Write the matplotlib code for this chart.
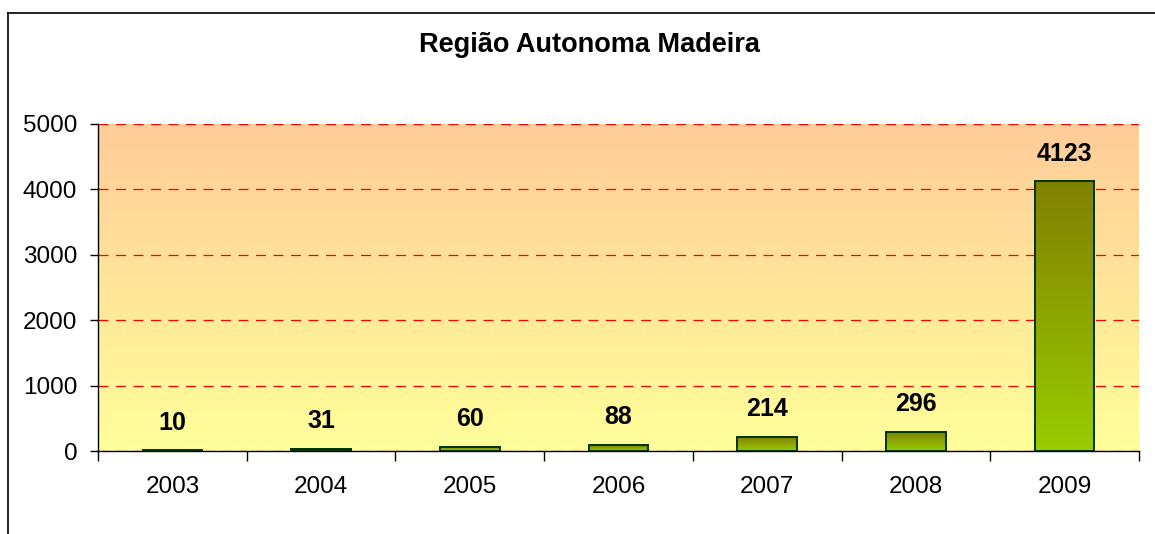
import numpy as np
import matplotlib.pyplot as plt
from matplotlib.colors import LinearSegmentedColormap
from matplotlib.lines import Line2D

plt.rcParams['font.family'] = ['Liberation Sans', 'DejaVu Sans']

years = ['2003', '2004', '2005', '2006', '2007', '2008', '2009']
values = [10, 31, 60, 88, 214, 296, 4123]
title = 'Região Autonoma Madeira'

fig = plt.figure(figsize=(11.55, 5.34), dpi=100)
ax = fig.add_axes([0.0849, 0.1554, 0.9012, 0.6124])

x = np.arange(len(years))

# background gradient, orange at top to pale yellow at bottom
bg = LinearSegmentedColormap.from_list('bg', ['#FFFF99', '#FFCC99'])
grad = np.linspace(0, 1, 256).reshape(-1, 1)
ax.imshow(grad, cmap=bg, aspect='auto', origin='lower',
          extent=[-0.5, len(years) - 0.5, 0, 5000], zorder=0)

ax.set_yticks(range(0, 5001, 1000))
ax.yaxis.grid(True, color='#FF0000', linestyle=(0, (8, 6)), linewidth=0.9)
ax.set_axisbelow(True)
for gl in ax.get_ygridlines():
    gl.set_zorder(1)

bars = ax.bar(x, values, width=0.40, color='none', edgecolor='#003300',
              linewidth=1.4, zorder=3)
barcm = LinearSegmentedColormap.from_list('bar', ['#99CC00', '#808000'])
for b in bars:
    h = b.get_height()
    ax.imshow(grad, cmap=barcm, aspect='auto', origin='lower',
              extent=[b.get_x(), b.get_x() + b.get_width(), 0, h], zorder=2)

for xi, v in zip(x, values):
    ax.annotate(str(v), (xi, v), xytext=(0, 20), textcoords='offset points',
                ha='center', va='center', fontsize=18, fontweight='bold',
                zorder=4)

ax.set_xlim(-0.5, len(years) - 0.5)
ax.set_ylim(0, 5000)

ax.set_xticks(x)
ax.set_xticklabels(years)
ax.set_xticks(np.arange(-0.5, len(years), 1), minor=True)
ax.tick_params(axis='x', which='major', length=0, pad=18, labelsize=17.5)
ax.tick_params(axis='x', which='minor', length=7, width=1, direction='out',
               color='#000000')
ax.tick_params(axis='y', length=6, width=1, direction='out', pad=9,
               labelsize=17.5)

for s in ['top', 'right']:
    ax.spines[s].set_visible(False)
ax.spines['left'].set_linewidth(1)
ax.spines['bottom'].set_linewidth(1)

fig.text(0.51, 1 - 45 / 534, title, ha='center', va='center',
         fontsize=19.5, fontweight='bold')

# outer chart frame (only left and top edges fall inside the image)
fig.add_artist(Line2D([8 / 1155, 8 / 1155], [0, 1 - 13 / 534],
                      color='black', linewidth=1.2))
fig.add_artist(Line2D([8 / 1155, 1], [1 - 13 / 534, 1 - 13 / 534],
                      color='black', linewidth=1.2))

fig.savefig('out.png', dpi=100)
